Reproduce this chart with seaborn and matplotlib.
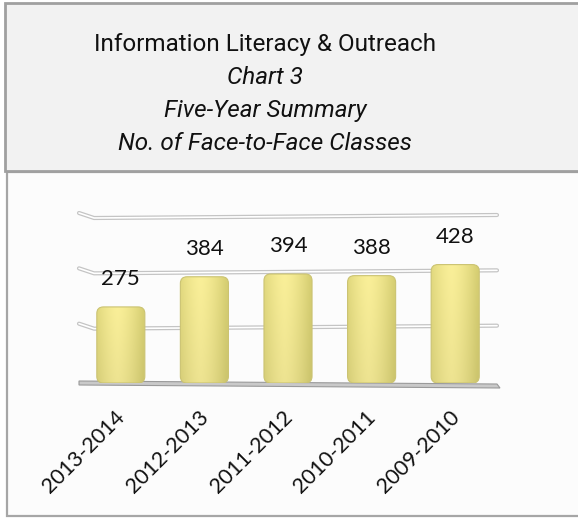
import numpy as np
import pandas as pd
import matplotlib
matplotlib.use("Agg")
import matplotlib.pyplot as plt
from matplotlib.patches import Rectangle, FancyBboxPatch
from matplotlib.transforms import ScaledTranslation
import seaborn as sns

# --- data -------------------------------------------------------------
periods = ["2013-2014", "2012-2013", "2011-2012", "2010-2011", "2009-2010"]
classes = [275, 384, 394, 388, 428]
grid_values = [0, 200, 400, 600]

title_lines = [
    ("Information Literacy & Outreach", "normal"),
    ("Chart 3", "italic"),
    ("Five-Year Summary", "italic"),
    ("No. of Face-to-Face Classes", "italic"),
]

df = pd.DataFrame({"period": periods, "classes": classes})

# --- figure -----------------------------------------------------------
sns.set_theme(style="white")
plt.rcParams["font.family"] = ["Lato", "DejaVu Sans"]

W, H = 578, 518
fig = plt.figure(figsize=(W / 100, H / 100), dpi=100)
fig.patch.set_facecolor("white")


def fx(px):
    return px / W


def fy(py):
    return 1 - py / H


# chart panel below the heading
fig.add_artist(Rectangle((fx(7), fy(516)), fx(600), (516 - 172) / H,
                         transform=fig.transFigure, facecolor="#fcfcfc",
                         edgecolor="#a6a6a6", linewidth=1.6, zorder=0))
# heading box
fig.add_artist(Rectangle((fx(5), fy(171)), fx(600), (171 - 3) / H,
                         transform=fig.transFigure, facecolor="#f2f2f2",
                         edgecolor="#a0a0a0", linewidth=2.0, zorder=1))

title_font = ["Roboto", "DejaVu Sans"]
for (txt, style), ypx in zip(title_lines, [45, 77, 110, 143]):
    fig.text(fx(265), fy(ypx), txt, ha="center", va="center",
             fontsize=17.5, style=style, family=title_font,
             fontstretch="condensed", color="#111111", zorder=3)

# --- plot area --------------------------------------------------------
ax = fig.add_axes([fx(79), fy(383), (497 - 79) / W, (383 - 217) / H])
ax.set_facecolor("none")

sns.barplot(data=df, x="period", y="classes", color="#e8de84",
            width=0.575, ax=ax, zorder=3)
bars = list(ax.patches)

ax.set_xlim(-0.5, len(periods) - 0.5)
ax.set_ylim(0, 600)
px_y = 600 / (383 - 217)      # data units per pixel (vertical)
px_x = len(periods) / (497 - 79)

# gridlines with a small perspective kink on the left end
for g in grid_values[1:]:
    xs = [-0.5, -0.32, len(periods) - 0.5]
    ys = [g + 4 * px_y, g - 1 * px_y, g + 2 * px_y]
    ax.plot(xs, ys, color="#c4c4c4", lw=3.0, solid_capstyle="round",
            zorder=1, clip_on=False)
    ax.plot(xs, ys, color="#ffffff", lw=1.2, solid_capstyle="round",
            zorder=1.1, clip_on=False)

# floor slab
floor_x = [-0.5, len(periods) - 0.5, len(periods) - 0.5 + 3 * px_x, -0.5]
floor_y = [2 * px_y, -1 * px_y, -5 * px_y, -2 * px_y]
ax.fill(floor_x, floor_y, color="#c9c9c9", ec="#9a9a9a", lw=0.8,
        zorder=2, clip_on=False)

# cylinder-like shading on each bar
cols = np.linspace(0, 1, 64)
shade = 1 - np.abs(cols - 0.42) ** 1.5 * 2.6
shade = np.clip(shade, 0, 1)
dark = np.array([0.82, 0.79, 0.44])
light = np.array([0.95, 0.91, 0.58])
grad = dark[None, :] + (light - dark)[None, :] * shade[:, None]
img = np.tile(grad[None, :, :], (40, 1, 1))
vert = np.linspace(1.03, 0.98, 40)[:, None, None]
img = np.clip(img * vert, 0, 1)

for bar in bars:
    x0, w, h = bar.get_x(), bar.get_width(), bar.get_height()
    rounded = FancyBboxPatch((x0, 0), w, h,
                             boxstyle="round,pad=0,rounding_size=0.08",
                             mutation_aspect=px_y / px_x,
                             facecolor="none", edgecolor="#cbc372",
                             lw=0.8, zorder=3.2)
    ax.add_patch(rounded)
    im = ax.imshow(img, extent=[x0, x0 + w, 0, h], aspect="auto",
                   origin="upper", zorder=3.1, interpolation="bilinear")
    im.set_clip_path(rounded)
    bar.set_visible(False)
    ax.annotate(f"{h:.0f}", (x0 + w / 2, h), xytext=(0, 20),
                textcoords="offset points", ha="center", va="center",
                fontsize=16, color="#111111", zorder=5)

ax.set_aspect("auto")
ax.set_xlim(-0.5, len(periods) - 0.5)
ax.set_ylim(0, 600)
ax.set_yticks([])
ax.set_xlabel("")
ax.set_ylabel("")
ax.tick_params(axis="x", length=0, pad=17)
ax.set_xticks(range(len(periods)))
ax.set_xticklabels(periods, rotation=45, ha="right", rotation_mode="anchor",
                   fontsize=15.5, color="#111111")
shift = ScaledTranslation(-6 / 100, 0, fig.dpi_scale_trans)
for lab in ax.get_xticklabels():
    lab.set_transform(lab.get_transform() + shift)
for s in ax.spines.values():
    s.set_visible(False)

fig.savefig("out.png", dpi=100)
